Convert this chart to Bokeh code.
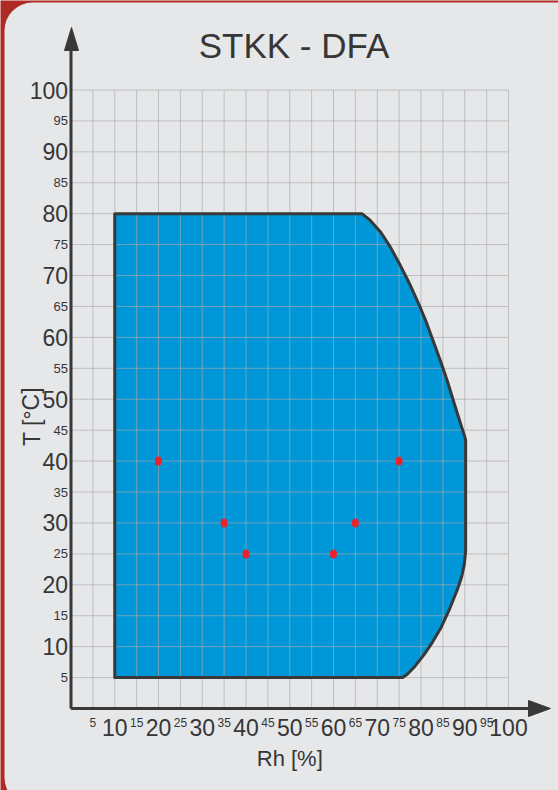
from bokeh.plotting import figure
from bokeh.models import Range1d
from bokeh.core.properties import value
from bokeh.embed import file_html
from bokeh.resources import INLINE

# ---------------- data ----------------
title_text = "STKK - DFA"
x_label = "Rh [%]"
y_label = "T [°C]"

x_major_ticks = [10, 20, 30, 40, 50, 60, 70, 80, 90, 100]
x_minor_ticks = [5, 15, 25, 35, 45, 55, 65, 75, 85, 95]
y_major_ticks = [10, 20, 30, 40, 50, 60, 70, 80, 90, 100]
y_minor_ticks = [5, 15, 25, 35, 45, 55, 65, 75, 85, 95]
grid_values = [5, 10, 15, 20, 25, 30, 35, 40, 45, 50, 55, 60, 65, 70, 75, 80, 85, 90, 95, 100]

# operating envelope (Rh %, T °C)
envelope_rh = [10, 66.5, 68.3, 70.8, 73.0, 75.0, 77.3, 79.5, 81.3, 83.0, 84.6, 86.0, 87.3,
               88.4, 89.3, 89.9, 90.2, 90.2,
               89.9, 89.3, 88.3, 86.6, 84.6, 82.6, 80.7, 78.6, 76.8, 75.8, 10]
envelope_t = [80, 80, 79.0, 77.0, 74.6, 72.0, 68.8, 65.4, 62.3, 59.0, 55.9, 53.0, 50.0,
              47.5, 45.5, 44.2, 43.4, 25.5,
              23.3, 21.3, 19.2, 16.2, 13.1, 10.7, 8.7, 6.8, 5.5, 5, 5]

# test points
test_rh = [20, 35, 40, 60, 65, 75]
test_t = [40, 30, 25, 25, 30, 40]

# ---------------- styles ----------------
FONT = "Liberation Sans"
TXT = "#363636"
RED_BG = "#ae2a24"
CARD = "#e6e7e9"
BLUE = "#0097d8"
GRID = "#a9a9ab"
OUTLINE = "#383838"
POINT = "#ec2129"

W, H = 558, 790
# page-pixel -> data mapping (frame covers the whole figure)
X0_PX, XS = 70.5, 4.375     # page x of Rh=0, px per unit
Y0_PX, YS = 708.0, 6.185    # page y of T=0, px per unit


def X(px):
    return (px - X0_PX) / XS


def Y(py):
    return (Y0_PX - py) / YS


p = figure(width=W, height=H, output_backend="svg", toolbar_location=None,
           x_range=Range1d(X(0), X(W)), y_range=Range1d(Y(H), Y(0)),
           x_axis_location=None, y_axis_location=None, min_border=0,
           background_fill_color=RED_BG, border_fill_color=RED_BG,
           outline_line_color=None)
p.grid.visible = False

# card
p.quad(left=[X(4)], right=[X(585)], top=[Y(2)], bottom=[Y(805)],
       fill_color=CARD, line_color=None, border_radius=28)

# envelope fill
p.patch(envelope_rh, envelope_t, fill_color=BLUE, line_color=None)

# grid
p.segment(x0=grid_values, y0=[0] * len(grid_values), x1=grid_values, y1=[100] * len(grid_values),
          line_color=GRID, line_width=1, line_alpha=0.65)
p.segment(x0=[0] * len(grid_values), y0=grid_values, x1=[100] * len(grid_values), y1=grid_values,
          line_color=GRID, line_width=1, line_alpha=0.65)

# envelope outline
p.patch(envelope_rh, envelope_t, fill_color=None, line_color=OUTLINE, line_width=3,
        line_join="round")

# test points
p.ellipse(test_rh, test_t, width=7, height=9, width_units="screen", height_units="screen",
          fill_color=POINT, line_color=None)

# axes lines with arrow heads
p.line([0, 0], [0, Y(46)], line_color=OUTLINE, line_width=3)
p.line([0, X(530)], [0, 0], line_color=OUTLINE, line_width=3)
p.patch([X(71), X(64), X(78)], [Y(27), Y(50), Y(50)], fill_color=OUTLINE, line_color=OUTLINE,
        line_width=1)
p.patch([X(550), X(528), X(528)], [0, Y(700), Y(716)], fill_color=OUTLINE, line_color=OUTLINE,
        line_width=1)

# tick labels
p.text(x=[X(67.5)] * len(y_major_ticks), y=y_major_ticks, text=[str(v) for v in y_major_ticks],
       text_font=value(FONT), text_font_size="23px", text_align="right",
       text_baseline="middle", text_color=TXT)
p.text(x=[X(67.5)] * len(y_minor_ticks), y=y_minor_ticks, text=[str(v) for v in y_minor_ticks],
       text_font=value(FONT), text_font_size="13px", text_align="right",
       text_baseline="middle", text_color=TXT)
p.text(x=x_major_ticks, y=[Y(718)] * len(x_major_ticks), text=[str(v) for v in x_major_ticks],
       text_font=value(FONT), text_font_size="23px", text_align="center",
       text_baseline="top", text_color=TXT)
p.text(x=x_minor_ticks, y=[Y(717)] * len(x_minor_ticks), text=[str(v) for v in x_minor_ticks],
       text_font=value(FONT), text_font_size="12px", text_align="center",
       text_baseline="top", text_color=TXT)

# axis titles
p.text(x=[50], y=[Y(745)], text=[x_label], text_font=value(FONT), text_font_size="22px",
       text_align="center", text_baseline="top", text_color=TXT)
p.text(x=[X(31)], y=[Y(416)], text=[y_label], text_font=value(FONT), text_font_size="23px",
       text_align="center", text_baseline="middle", text_color=TXT, angle=1.5708)

# title
p.text(x=[X(293.5)], y=[Y(25)], text=[title_text], text_font=value(FONT), text_font_size="35px",
       text_align="center", text_baseline="top", text_color=TXT)

open("out.html", "w").write(file_html(p, INLINE))
